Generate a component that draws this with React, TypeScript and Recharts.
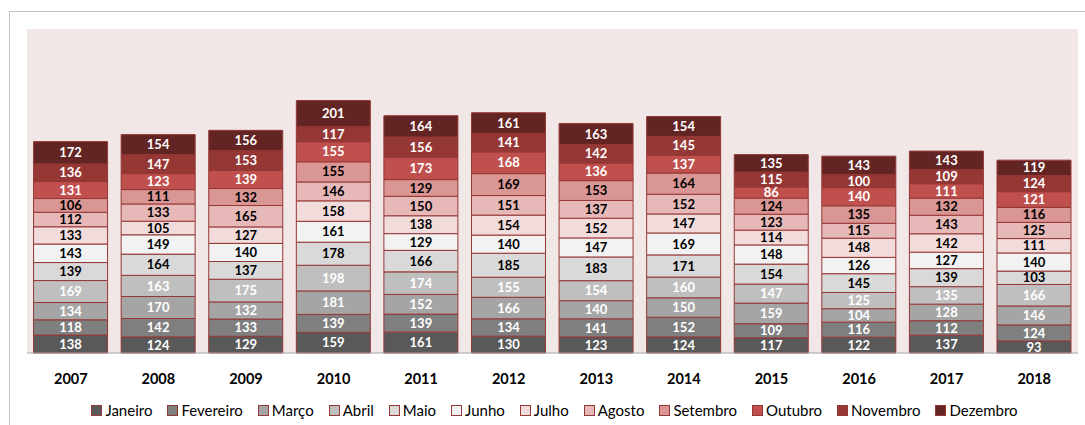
import React from 'react';
import { BarChart, Bar, XAxis, YAxis, CartesianGrid, LabelList, Legend } from 'recharts';

const years = ['2007', '2008', '2009', '2010', '2011', '2012', '2013', '2014', '2015', '2016', '2017', '2018'];
const months = ['Janeiro', 'Fevereiro', 'Março', 'Abril', 'Maio', 'Junho', 'Julho', 'Agosto', 'Setembro', 'Outubro', 'Novembro', 'Dezembro'];

const janeiro = [138, 124, 129, 159, 161, 130, 123, 124, 117, 122, 137, 93];
const fevereiro = [118, 142, 133, 139, 139, 134, 141, 152, 109, 116, 112, 124];
const marco = [134, 170, 132, 181, 152, 166, 140, 150, 159, 104, 128, 146];
const abril = [169, 163, 175, 198, 174, 155, 154, 160, 147, 125, 135, 166];
const maio = [139, 164, 137, 178, 166, 185, 183, 171, 154, 145, 139, 103];
const junho = [143, 149, 140, 161, 129, 140, 147, 169, 148, 126, 127, 140];
const julho = [133, 105, 127, 158, 138, 154, 152, 147, 114, 148, 142, 111];
const agosto = [112, 133, 165, 146, 150, 151, 137, 152, 123, 115, 143, 125];
const setembro = [106, 111, 132, 155, 129, 169, 153, 164, 124, 135, 132, 116];
const outubro = [131, 123, 139, 155, 173, 168, 136, 137, 86, 140, 111, 121];
const novembro = [136, 147, 153, 117, 156, 141, 142, 145, 115, 100, 109, 124];
const dezembro = [172, 154, 156, 201, 164, 161, 163, 154, 135, 143, 143, 119];

const seriesValues = [janeiro, fevereiro, marco, abril, maio, junho, julho, agosto, setembro, outubro, novembro, dezembro];
const colors = ['#595959', '#7F7F7F', '#A5A5A5', '#BFBFBF', '#D9D9D9', '#F2F2F2', '#F2DCDB', '#E6B9B8', '#D99694', '#C0504D', '#953735', '#632523'];
const labelColors = ['#FFFFFF', '#FFFFFF', '#FFFFFF', '#FFFFFF', '#000000', '#000000', '#000000', '#000000', '#000000', '#FFFFFF', '#FFFFFF', '#FFFFFF'];
const STROKE = '#953735';
const FONT = 'Lato, "Open Sans", sans-serif';

const data = years.map((y, i) => {
  const row: Record<string, any> = { year: y };
  months.forEach((m, j) => {
    row[m] = seriesValues[j][i];
  });
  return row;
});

const LegendContent = () => (
  <div
    style={{
      height: 30,
      paddingTop: 0,
      boxSizing: 'border-box',
      display: 'flex',
      justifyContent: 'center',
      alignItems: 'center',
      fontFamily: FONT,
      fontSize: 15,
      lineHeight: '18px',
      color: '#000',
      width: 1085,
      paddingLeft: 24,
    }}
  >
    {months.map((m, j) => (
      <div key={m} style={{ display: 'flex', alignItems: 'center', marginLeft: j === 0 ? 0 : 15 }}>
        <span
          style={{
            display: 'inline-block',
            width: 9,
            height: 9,
            background: colors[j],
            border: `1px solid ${STROKE}`,
            marginRight: 3,
          }}
        />
        <span>{m}</span>
      </div>
    ))}
  </div>
);

export default function App() {
  return (
    <div style={{ position: 'absolute', left: 0, top: 0, width: 1085, height: 425, background: '#fff', overflow: 'hidden' }}>
      <div
        style={{
          position: 'absolute',
          left: 9,
          top: 11,
          width: 1100,
          height: 450,
          borderLeft: '1px solid #C4C4C4',
          borderTop: '1px solid #C4C4C4',
        }}
      />
      <div style={{ position: 'absolute', left: 0, top: 0 }}>
        <BarChart
          width={1085}
          height={425}
          data={data}
          margin={{ top: 29, right: 7, left: 27, bottom: 0 }}
          barCategoryGap="7.5%"
        >
          <CartesianGrid fill="#F2E7E7" stroke="none" horizontal={false} vertical={false} />
          <XAxis
            dataKey="year"
            height={42}
            tickLine={false}
            tickSize={0}
            tickMargin={21}
            axisLine={{ stroke: '#A6A6A6', strokeWidth: 1 }}
            tick={{ fontFamily: FONT, fontSize: 14.5, fontWeight: 700, fill: '#000' }}
          />
          <YAxis hide domain={[0, 2500]} />
          <Legend verticalAlign="bottom" height={30} wrapperStyle={{ left: 0, width: 1085 }} content={<LegendContent />} />
          {months.map((m, j) => (
            <Bar key={m} dataKey={m} stackId="a" fill={colors[j]} stroke={STROKE} strokeWidth={1} isAnimationActive={false}>
              <LabelList
                dataKey={m}
                position="center"
                style={{ fontFamily: FONT, fontSize: 13, fontWeight: 700 }}
                fill={labelColors[j]}
              />
            </Bar>
          ))}
        </BarChart>
      </div>
    </div>
  );
}
